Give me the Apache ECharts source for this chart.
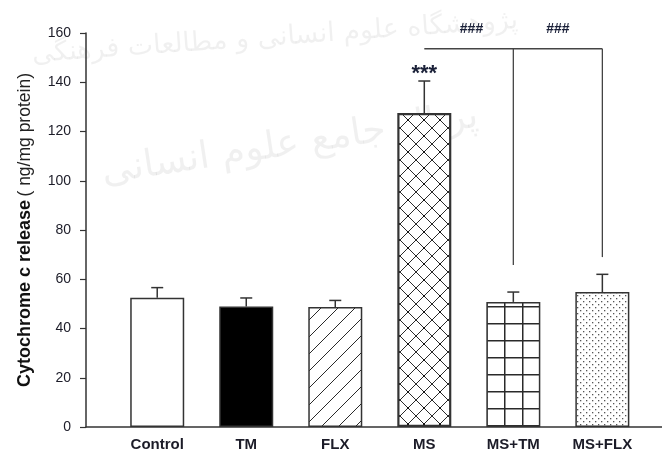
<!DOCTYPE html>
<html>
<head>
<meta charset="utf-8">
<script src="https://cdn.jsdelivr.net/npm/echarts@6/dist/echarts.min.js"></script>
<style>html,body{margin:0;padding:0;background:#fff}#c{width:662px;height:452px}</style>
</head>
<body>
<div id="c"></div>
<script>
const categories = ['Control', 'TM', 'FLX', 'MS', 'MS+TM', 'MS+FLX'];
const means = [52.5, 48.9, 48.7, 127.5, 50.8, 54.8];
const errors = [4.1, 3.5, 2.7, 13.0, 4.0, 7.2];
const yTicks = [0, 20, 40, 60, 80, 100, 120, 140, 160];
// bracket segments [x1, y1, x2, y2] in data units
const bracketSegments = [[3, 153.6, 5, 153.6], [4, 153.6, 4, 65.8], [5, 153.6, 5, 69.0]];
// significance marks [x, y, text]
const sigMarks = [[3, 143.4, '***'], [3.53, 161.6, '###'], [4.5, 161.6, '###']];
const watermark1 = 'پژوهشگاه علوم انسانی و مطالعات فرهنگی';
const watermark2 = 'پرتال جامع علوم انسانی';

function makePattern(kind) {
  const c = document.createElement('canvas');
  const sizes = {diag: [17, 17], cross: [16, 16], grid: [18, 17], dots: [6, 6]};
  c.width = sizes[kind][0];
  c.height = sizes[kind][1];
  const ctx = c.getContext('2d');
  ctx.fillStyle = '#ffffff';
  ctx.fillRect(0, 0, c.width, c.height);
  ctx.strokeStyle = '#2a2a2a';
  if (kind === 'diag') {
    ctx.lineWidth = 1;
    ctx.beginPath();
    ctx.moveTo(-1, 18); ctx.lineTo(18, -1);
    ctx.moveTo(-18, 18); ctx.lineTo(1, -1);
    ctx.moveTo(16, 18); ctx.lineTo(35, -1);
    ctx.stroke();
  } else if (kind === 'cross') {
    ctx.lineWidth = 1;
    ctx.beginPath();
    ctx.moveTo(0, 0); ctx.lineTo(16, 16);
    ctx.moveTo(16, 0); ctx.lineTo(0, 16);
    ctx.stroke();
    ctx.fillStyle = '#111';
    ctx.fillRect(7, 7, 2, 2);
  } else if (kind === 'grid') {
    ctx.lineWidth = 1.5;
    ctx.beginPath();
    ctx.moveTo(0.75, 0); ctx.lineTo(0.75, 17);
    ctx.moveTo(0, 0.75); ctx.lineTo(18, 0.75);
    ctx.stroke();
  } else if (kind === 'dots') {
    ctx.fillStyle = '#555';
    ctx.fillRect(1, 1, 1.3, 1.3);
    ctx.fillRect(4, 4, 1.3, 1.3);
  }
  return {image: c, repeat: 'repeat'};
}

const fills = [
  '#ffffff',
  '#000000',
  makePattern('diag'),
  makePattern('cross'),
  makePattern('grid'),
  makePattern('dots')
];

const chart = echarts.init(document.getElementById('c'), null, {renderer: 'canvas'});
const labelColor = '#1c1c28';

chart.setOption({
  animation: false,
  backgroundColor: '#fff',
  grid: {left: 86, right: 0, top: 33, bottom: 25, containLabel: false},
  graphic: [
    {type: 'text', x: 275, y: 38, rotation: 0.07, z: -10,
     style: {text: watermark1, font: '27px "DejaVu Sans"', fill: 'rgba(0,0,0,0.06)', align: 'center', verticalAlign: 'middle'}},
    {type: 'text', x: 290, y: 145, rotation: 0.15, z: -10,
     style: {text: watermark2, font: '38px "DejaVu Sans"', fill: 'rgba(0,0,0,0.06)', align: 'center', verticalAlign: 'middle'}}
  ],
  xAxis: {
    type: 'value', min: -0.8, max: 5.67,
    axisLine: {show: true, onZero: false, lineStyle: {color: '#333', width: 1.5}},
    axisTick: {show: false},
    splitLine: {show: false},
    axisLabel: {
      customValues: categories.map((c, i) => i),
      formatter: v => categories[Math.round(v)] || '',
      fontFamily: 'Liberation Sans', fontWeight: 'bold', fontSize: 15,
      color: labelColor, margin: 10
    }
  },
  yAxis: {
    type: 'value', min: 0, max: 160, interval: 20,
    axisLine: {show: true, onZero: false, lineStyle: {color: '#333', width: 1.5}},
    axisTick: {show: true, inside: false, length: 6, lineStyle: {color: '#333', width: 1.2},
      customValues: yTicks},
    splitLine: {show: false},
    axisLabel: {fontFamily: 'Liberation Sans', fontSize: 14, color: labelColor, margin: 15,
      customValues: yTicks},
    name: '{b|Cytochrome c release} {n|( ng/mg protein)}',
    nameLocation: 'middle', nameRotate: 90, nameGap: 52,
    nameTextStyle: {
      rich: {
        b: {fontFamily: 'Liberation Sans', fontWeight: 'bold', fontSize: 18, color: '#111'},
        n: {fontFamily: 'Liberation Sans', fontSize: 17.5, color: '#222'}
      }
    }
  },
  series: [
    {
      type: 'bar', barWidth: 54, z: 2,
      data: categories.map((c, i) => ({
        value: [i, means[i]],
        itemStyle: {color: fills[i], borderColor: '#333', borderWidth: i === 3 ? 2.2 : 1.5}
      }))
    },
    {
      type: 'custom', z: 3, clip: false,
      data: categories.map((c, i) => [i, means[i], errors[i]]),
      renderItem: function (params, api) {
        const x = api.value(0), m = api.value(1), e = api.value(2);
        const p0 = api.coord([x, m]);
        const p1 = api.coord([x, m + e]);
        const st = {stroke: '#333', lineWidth: 1.5};
        return {type: 'group', children: [
          {type: 'line', shape: {x1: p0[0], y1: p0[1], x2: p1[0], y2: p1[1]}, style: st},
          {type: 'line', shape: {x1: p1[0] - 6, y1: p1[1], x2: p1[0] + 6, y2: p1[1]}, style: st}
        ]};
      }
    },
    {
      type: 'custom', z: 3, clip: false,
      data: bracketSegments,
      renderItem: function (params, api) {
        const a = api.coord([api.value(0), api.value(1)]);
        const b = api.coord([api.value(2), api.value(3)]);
        return {type: 'line', shape: {x1: a[0], y1: a[1], x2: b[0], y2: b[1]},
          style: {stroke: '#444', lineWidth: 1.3}};
      }
    },
    {
      type: 'custom', z: 4, clip: false,
      data: sigMarks,
      renderItem: function (params, api) {
        const p = api.coord([api.value(0), api.value(1)]);
        const t = sigMarks[params.dataIndex][2];
        return {type: 'text', x: p[0], y: p[1],
          style: {text: t, font: (t === '***' ? 'bold 22px' : 'bold 14px') + ' "Liberation Sans"',
            fill: '#1a2038', align: 'center', verticalAlign: 'middle'}};
      }
    }
  ]
});
</script>
</body>
</html>
